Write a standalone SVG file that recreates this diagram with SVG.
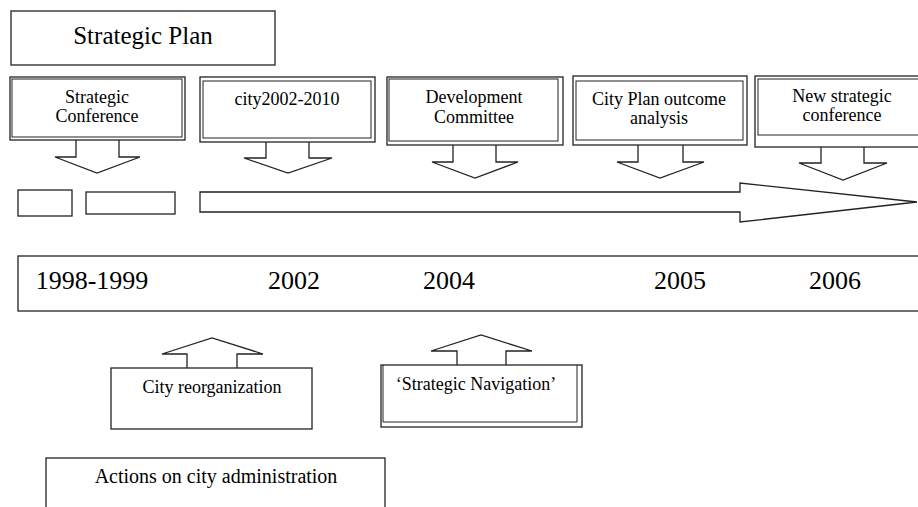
<svg xmlns="http://www.w3.org/2000/svg" width="918" height="507" viewBox="0 0 918 507">
<style>
.b{fill:#fff;stroke:#222;stroke-width:1.3}
.i{fill:none;stroke:#222;stroke-width:1}
.a{fill:#fff;stroke:#222;stroke-width:1.3;stroke-linejoin:miter}
text{font-family:"Liberation Serif","Times New Roman",serif;fill:#000;text-anchor:middle}
.t{font-size:18px}
.y{font-size:26px}
</style>
<rect width="918" height="507" fill="#fff"/>
<g id="strategic-plan">
<rect class="b" x="11" y="11" width="264" height="54"/>
<text x="143" y="44" style="font-size:25px">Strategic Plan</text>
</g>
<g id="connectors">
<polyline class="a" points="76,140 76,157 55,157 97,173 140,157 119,157 119,140"/>
<polyline class="a" points="266,142 266,158 244,158 288,173 332,158 309,158 309,142"/>
<polyline class="a" points="453,145 453,162 432,162 475,178 518,162 496,162 496,145"/>
<polyline class="a" points="638,145 638,162 617,162 660,178 704,162 683,162 683,145"/>
<polyline class="a" points="821,147 821,163 799,163 843,180 887,163 864,163 864,147"/>
<polygon class="a" points="200,192 740,192 740,183 917,202 740,222 740,212 200,212"/>
<polyline class="a" points="187,368 187,354 162,354 212,338 263,354 237,354 237,368"/>
<polyline class="a" points="457,365 457,351 431,351 481,335 532,351 506,351 506,365"/>
</g>
<g id="strategic-conference">
<rect class="b" x="10" y="77" width="175" height="63"/>
<rect class="i" x="12" y="79" width="170" height="58"/>
<text class="t" x="97" y="103">Strategic</text>
<text class="t" x="97" y="122">Conference</text>
</g>
<g id="city2002-2010">
<rect class="b" x="200" y="77" width="175" height="65"/>
<rect class="i" x="203" y="81" width="168" height="57"/>
<text class="t" x="287" y="105">city2002-2010</text>
</g>
<g id="development-committee">
<rect class="b" x="387" y="77" width="176" height="68"/>
<rect class="i" x="389" y="79" width="169" height="62"/>
<text class="t" x="474" y="103">Development</text>
<text class="t" x="474" y="123">Committee</text>
</g>
<g id="city-plan-outcome">
<rect class="b" x="573" y="76" width="174" height="69"/>
<rect class="i" x="576" y="81" width="167" height="59"/>
<text class="t" x="659" y="105">City Plan outcome</text>
<text class="t" x="659" y="124">analysis</text>
</g>
<g id="new-strategic-conference">
<rect class="b" x="755" y="76" width="175" height="71"/>
<rect class="i" x="758" y="79" width="170" height="56"/>
<text class="t" x="842" y="102">New strategic</text>
<text class="t" x="842" y="121">conference</text>
</g>
<g id="small-box-1"><rect class="b" x="18" y="190" width="54" height="26"/></g>
<g id="small-box-2"><rect class="b" x="86" y="192" width="89" height="22"/></g>
<g id="years">
<rect class="b" x="18" y="256" width="910" height="55"/>
<text class="y" x="92" y="289">1998-1999</text>
<text class="y" x="294" y="289">2002</text>
<text class="y" x="449" y="289">2004</text>
<text class="y" x="680" y="289">2005</text>
<text class="y" x="835" y="289">2006</text>
</g>
<g id="city-reorganization">
<rect class="b" x="111" y="368" width="201" height="61"/>
<text class="t" x="212" y="393">City reorganization</text>
</g>
<g id="strategic-navigation">
<rect class="b" x="381" y="365" width="201" height="62"/>
<polyline class="i" points="383,365 383,422 577,422 577,365"/>
<text class="t" x="476" y="390">‘Strategic Navigation’</text>
</g>
<g id="actions">
<rect class="b" x="46" y="458" width="339" height="60"/>
<text x="216" y="483" style="font-size:20px">Actions on city administration</text>
</g>
</svg>
